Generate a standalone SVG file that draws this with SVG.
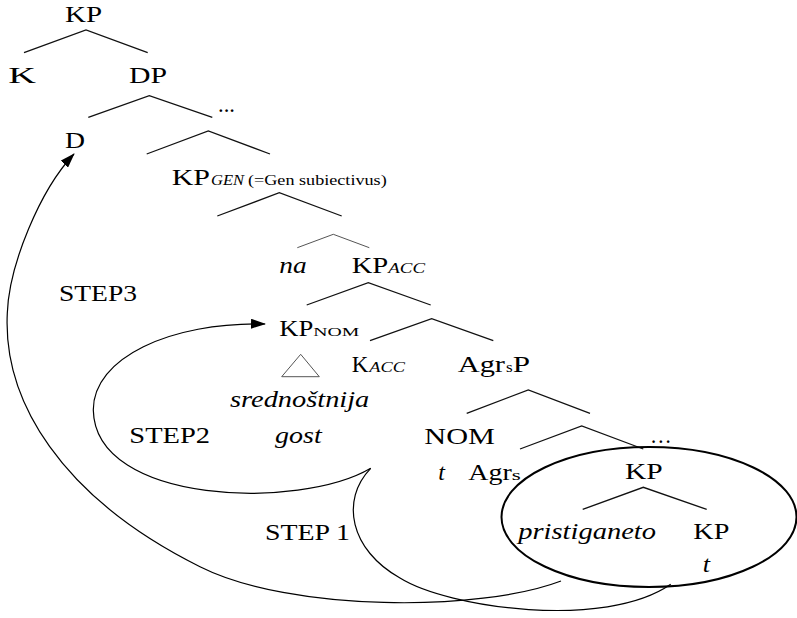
<svg xmlns="http://www.w3.org/2000/svg" width="797" height="618" viewBox="0 0 797 618" font-family="'Liberation Serif', 'DejaVu Serif', serif">
<defs>
<style>
text{font-family:'Liberation Serif','DejaVu Serif',serif;font-size:24px;fill:#000}
.i{font-style:italic}
.sub{font-size:14px;font-style:italic}
.sc{font-size:13px}
.s{font-size:14px}
.par{font-size:15px}
.edge{stroke:#111;stroke-width:1.3;fill:none}
.thin{stroke:#555;stroke-width:1;fill:none}
.curve{stroke:#000;stroke-width:1.2;fill:none}
</style>
<marker id="ah" markerWidth="15" markerHeight="10" refX="14" refY="5" orient="auto" markerUnits="userSpaceOnUse">
<path d="M0,0 L15,5 L0,10 z" fill="#000"/>
</marker>
</defs>
<rect width="797" height="618" fill="#fff"/>

<g id="connectors">
<path class="edge" d="M24,52.7 L86,30 L147.7,52.7"/>
<path class="edge" d="M88.3,117.3 L149.3,95.7 L212.3,117.3"/>
<path class="edge" d="M146.7,154 L208.3,131 L270,154"/>
<path class="edge" d="M217.3,216 L279.3,192.7 L341.7,216"/>
<path class="thin" d="M297.3,247.7 L333.3,234.3 L369.3,247.7"/>
<path class="edge" d="M306.7,305 L368.3,282.7 L430.7,305"/>
<path class="edge" d="M370,340.7 L431.7,318.7 L493.3,340.7"/>
<path class="edge" d="M466.7,413.3 L528.3,390 L590,413.3"/>
<path class="edge" d="M520,449 L581.7,426 L643.3,449"/>
<path class="edge" d="M582.7,509.3 L643.3,487.3 L706.7,509.3"/>
<path class="thin" d="M300.7,354.3 L281.7,376.7 L319.3,376.7 Z"/>
<path id="step2" class="curve" d="M370.7,468.3 C300,510 95,505 93.3,410 C93,358 170,322 265,324" marker-end="url(#ah)"/>
<path id="step1" class="curve" d="M370.7,468.3 C340,500 350,550 400,578 C448,608 605,630 670.7,584.3"/>
<path id="step3" class="curve" d="M561,581 C480,612 290,612 200,566.7 C60,497 3,400 7.3,313.3 C9,265 40,190 74,154" marker-end="url(#ah)"/>
<ellipse cx="649" cy="517" rx="147.5" ry="70" fill="none" stroke="#000" stroke-width="2"/>
</g>

<g id="n-KP-top"><text x="65" y="21.7" textLength="37" lengthAdjust="spacingAndGlyphs">KP</text></g>
<g id="n-K"><text x="8.3" y="83.3" textLength="27.7" lengthAdjust="spacingAndGlyphs">K</text></g>
<g id="n-DP"><text x="129" y="83.3" textLength="38" lengthAdjust="spacingAndGlyphs">DP</text></g>
<g id="n-dots1"><text x="218" y="111.7" textLength="17" lengthAdjust="spacingAndGlyphs">...</text></g>
<g id="n-D"><text x="65" y="147.7" textLength="20" lengthAdjust="spacingAndGlyphs">D</text></g>
<g id="n-KPGEN"><text y="185"><tspan x="171.7" textLength="38.3" lengthAdjust="spacingAndGlyphs">KP</tspan><tspan class="sub" x="211" textLength="33" lengthAdjust="spacingAndGlyphs">GEN</tspan><tspan class="par" x="248" textLength="138.7" lengthAdjust="spacingAndGlyphs">(=Gen subiectivus)</tspan></text></g>
<g id="n-na"><text class="i" x="279.3" y="272.7" textLength="27.4" lengthAdjust="spacingAndGlyphs">na</text></g>
<g id="n-KPACC"><text y="272.7"><tspan x="351.7" textLength="36.6" lengthAdjust="spacingAndGlyphs">KP</tspan><tspan class="sub" x="388.3" textLength="36.7" lengthAdjust="spacingAndGlyphs">ACC</tspan></text></g>
<g id="n-STEP3"><text x="59" y="300.7" textLength="78" lengthAdjust="spacingAndGlyphs">STEP3</text></g>
<g id="n-KPNOM"><text y="335.7"><tspan x="279.3" textLength="34" lengthAdjust="spacingAndGlyphs">KP</tspan><tspan class="sc" x="313.3" textLength="46" lengthAdjust="spacingAndGlyphs">NOM</tspan></text></g>
<g id="n-KACC"><text y="371.7"><tspan x="351.7" textLength="16.6" lengthAdjust="spacingAndGlyphs">K</tspan><tspan class="sub" x="369.3" textLength="35.7" lengthAdjust="spacingAndGlyphs">ACC</tspan></text></g>
<g id="n-AgrsP"><text y="371.7"><tspan x="457.7" textLength="47.3" lengthAdjust="spacingAndGlyphs">Agr</tspan><tspan class="s" x="506" textLength="6.7" lengthAdjust="spacingAndGlyphs">s</tspan><tspan x="512.7" textLength="17.3" lengthAdjust="spacingAndGlyphs">P</tspan></text></g>
<g id="n-srednostnija"><text class="i" x="230" y="406.7" textLength="139.3" lengthAdjust="spacingAndGlyphs">srednoštnija</text></g>
<g id="n-STEP2"><text x="129.3" y="443.3" textLength="80.7" lengthAdjust="spacingAndGlyphs">STEP2</text></g>
<g id="n-gost"><text class="i" x="275" y="443.3" textLength="46.7" lengthAdjust="spacingAndGlyphs">gost</text></g>
<g id="n-NOM"><text x="424.3" y="444.3" textLength="70.7" lengthAdjust="spacingAndGlyphs">NOM</text></g>
<g id="n-dots2"><text x="650" y="443.3" textLength="21.7" lengthAdjust="spacingAndGlyphs">…</text></g>
<g id="n-t1"><text class="i" x="438.3" y="480" textLength="6.7" lengthAdjust="spacingAndGlyphs">t</text></g>
<g id="n-Agrs"><text y="480"><tspan x="468.3" textLength="43.4" lengthAdjust="spacingAndGlyphs">Agr</tspan><tspan class="s" x="511.7" textLength="9" lengthAdjust="spacingAndGlyphs">s</tspan></text></g>
<g id="n-KP-low"><text x="625" y="479.3" textLength="37.7" lengthAdjust="spacingAndGlyphs">KP</text></g>
<g id="n-pristiganeto"><text class="i" x="518.3" y="539.3" textLength="137.7" lengthAdjust="spacingAndGlyphs">pristiganeto</text></g>
<g id="n-KP-t"><text x="693.3" y="539.3" textLength="36" lengthAdjust="spacingAndGlyphs">KP</text></g>
<g id="n-STEP1"><text x="265" y="540" textLength="85" lengthAdjust="spacingAndGlyphs">STEP 1</text></g>
<g id="n-t2"><text class="i" x="702.7" y="571.7" textLength="7.3" lengthAdjust="spacingAndGlyphs">t</text></g>
</svg>
